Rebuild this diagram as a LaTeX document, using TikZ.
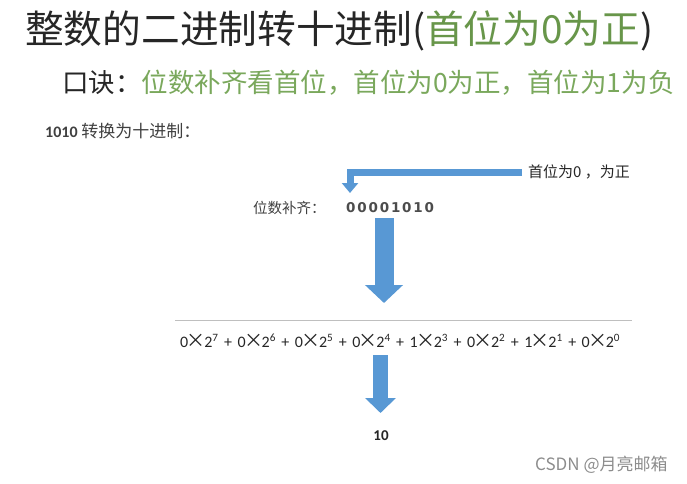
\documentclass[tikz,border=0pt]{standalone}
\usepackage{fontspec}
\setmainfont{Carlito}
\newfontfamily\cjk{Noto Sans CJK SC}
\newfontfamily\dvs{DejaVu Sans}
\usetikzlibrary{arrows.meta}
\definecolor{titlegreen}{RGB}{104,150,74}
\definecolor{mottogreen}{RGB}{122,168,92}
\definecolor{arrowblue}{RGB}{88,152,212}
\newcommand\dg[1]{\makebox[11.2pt][l]{#1}}
\newcommand\pw[2]{#1\makebox[16pt]{\cjk\fontsize{19}{19}\selectfont ×}2\textsuperscript{#2}}
\newcommand\plus{\hspace{5.5pt}+\hspace{5.5pt}}
\begin{document}
\begin{tikzpicture}[x=1pt,y=-1pt,
  txt/.style={anchor=west,inner sep=0pt,text=black!85},
  blockarrow/.style={arrowblue,line width=#1}]
\useasboundingbox (0,0) rectangle (687,483);
\node[txt,font=\cjk\fontsize{38.7}{40}\selectfont] (title) at (25,31) {整数的二进制转十进制(\textcolor{titlegreen}{首位为0为正})};
\node[txt,font=\cjk\fontsize{26.5}{28}\selectfont] (motto) at (62,83) {口诀：\textcolor{mottogreen}{位数补齐看首位，首位为0为正，首位为1为负}};
\node[txt,font=\cjk\fontsize{17}{19}\selectfont,text=black!75] (task) at (45,131) {{\rmfamily\bfseries\fontsize{16}{17}\selectfont 1010} 转换为十进制：};
\node[txt,font=\cjk\fontsize{15}{17}\selectfont] (note) at (528,172) {首位为0 ，为正};
\node[txt,font=\cjk\fontsize{14.5}{16}\selectfont,text=black!75] (pad) at (253,208) {位数补齐：};
\node[txt,font=\dvs\bfseries\fontsize{13.5}{15}\selectfont,text=black!70] (bits) at (346,208) {\dg0\dg0\dg0\dg0\dg1\dg0\dg1\dg0};
\node[txt,font=\fontsize{16}{18}\selectfont] (sum) at (180,341) {\pw07\plus\pw06\plus\pw05\plus\pw04\plus\pw13\plus\pw02\plus\pw11\plus\pw00};
\node[inner sep=0pt,font=\bfseries\fontsize{15}{17}\selectfont,text=black!85] (result) at (381,436) {10};
\node[txt,font=\cjk\fontsize{17}{19}\selectfont,text=black!45] (mark) at (535,465) {CSDN @月亮邮箱};
\coordinate (bend) at (350,193);
\coordinate (bigtop) at (384,218);
\coordinate (bigtip) at (384,303);
\coordinate (smalltop) at (380.5,355);
\coordinate (smalltip) at (380.5,413);
\draw[black!25,line width=1pt] (175,320) -- (632,320);
\draw[blockarrow=7pt,-{Triangle[width=16pt,length=10pt]}] ([xshift=-6pt]note.west) -| (bend);
\draw[blockarrow=19pt,-{Triangle[width=37pt,length=18pt]}] (bigtop) -- (bigtip);
\draw[blockarrow=15pt,-{Triangle[width=30pt,length=15pt]}] (smalltop) -- (smalltip);
\end{tikzpicture}
\end{document}
